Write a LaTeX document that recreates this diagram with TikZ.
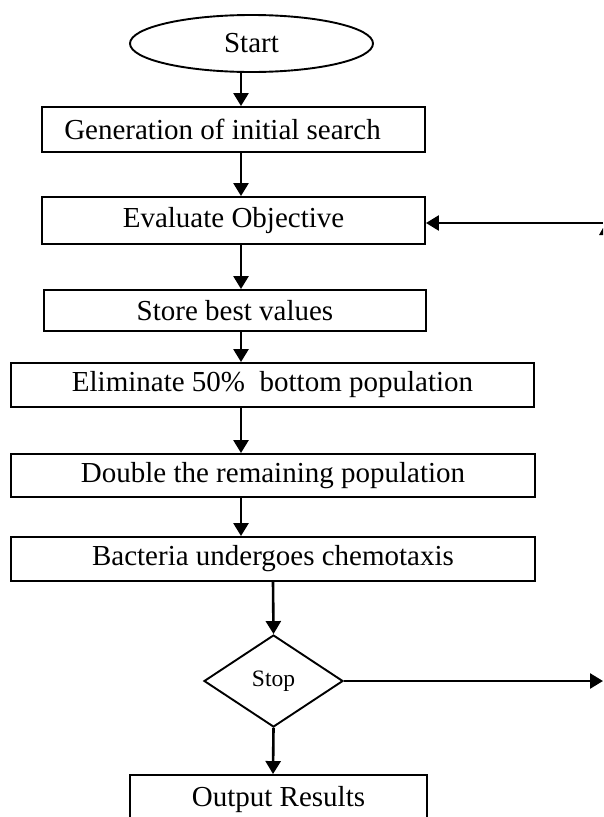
\documentclass[tikz,border=0pt]{standalone}
\usepackage{fontspec}
\setmainfont{Liberation Serif}
\usetikzlibrary{arrows.meta,shapes.geometric}
\tikzset{
  boxnode/.style={draw, line width=1.9pt, rectangle, inner sep=0pt, font=\fontsize{29}{34}\selectfont},
  arr/.style={line width=2.6pt, -{Triangle[length=13pt,width=15pt]}},
}
\begin{document}
\begin{tikzpicture}[x=1pt,y=-1pt]
\useasboundingbox (0,0) rectangle (603,817);
\clip (0,0) rectangle (603,817);
\fill[white] (0,0) rectangle (603,817);
\node[draw, ellipse, line width=1.9pt, inner sep=0pt, minimum width=243pt, minimum height=57pt, font=\fontsize{29}{34}\selectfont] (start) at (251.5,43.5) {Start};
\node[boxnode, minimum width=383pt, minimum height=45pt] (gen) at (233.5,129.5) {Generation of initial search\kern22pt};
\node[boxnode, minimum width=383pt, minimum height=47pt] (eval) at (233.5,220.5) {Evaluate Objective};
\node[boxnode, minimum width=382pt, minimum height=41pt] (store) at (235,310.5) {Store best values};
\node[boxnode, minimum width=523pt, minimum height=44pt] (elim) at (272.5,385) {Eliminate 50\%~ bottom population};
\node[boxnode, minimum width=524pt, minimum height=43pt] (dbl) at (273,475.5) {Double the remaining population};
\node[boxnode, minimum width=524pt, minimum height=44pt] (bact) at (273,559) {Bacteria undergoes chemotaxis};
\node[draw, diamond, line width=1.9pt, inner sep=0pt, minimum width=139pt, minimum height=92pt, font=\fontsize{23.5}{28}\selectfont] (stop) at (273.5,681) {\raisebox{4pt}{Stop}};
\node[boxnode, minimum width=297pt, minimum height=50pt] (out) at (278.5,800) {\raisebox{2pt}{Output Results}};
\coordinate (c1) at (241,0);
\coordinate (c2) at (273,0);
\coordinate (fbR) at (603,223);
\coordinate (stopR) at (603,681);
\draw[arr] (start.south -| c1) -- (gen.north -| c1);
\draw[arr] (gen.south -| c1) -- (eval.north -| c1);
\draw[arr] (eval.south -| c1) -- (store.north -| c1);
\draw[arr] (store.south -| c1) -- (elim.north -| c1);
\draw[arr] (elim.south -| c1) -- (dbl.north -| c1);
\draw[arr] (dbl.south -| c1) -- (bact.north -| c1);
\draw[arr] (bact.south -| c2) -- (stop.north);
\draw[arr] (stop.south) -- (out.north -| c2);
\draw[arr] (fbR) -- (fbR -| eval.east);
\draw[arr] (stop.east) -- (stopR);
\fill (599,235) -- (603,228) -- (603,235) -- cycle;
\end{tikzpicture}
\end{document}
